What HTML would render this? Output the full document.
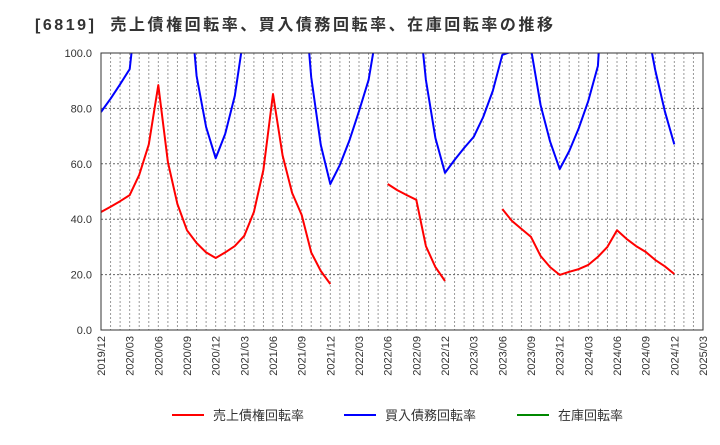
<!DOCTYPE html>
<html><head><meta charset="utf-8"><style>
body{margin:0;background:#fff;font-family:"Liberation Sans","Noto Sans CJK JP",sans-serif;}
</style></head><body>
<svg id="chart" width="720" height="440" xmlns="http://www.w3.org/2000/svg" font-family="Liberation Sans, Noto Sans CJK JP, sans-serif">
<text x="35" y="30" font-size="16" font-weight="bold" fill="#333" textLength="518" lengthAdjust="spacing" xml:space="preserve">[6819]  売上債権回転率、買入債務回転率、在庫回転率の推移</text>
<defs><clipPath id="clip"><rect x="101" y="53" width="602" height="277"/></clipPath></defs>
<g id="grid"></g><g id="series" clip-path="url(#clip)"></g><g id="axes"></g>
<g>
<line x1="172" y1="415" x2="204" y2="415" stroke="#f00" stroke-width="2"/><text x="213" y="420" font-size="13" fill="#333">売上債権回転率</text>
<line x1="344" y1="415" x2="376" y2="415" stroke="#00f" stroke-width="2"/><text x="385" y="420" font-size="13" fill="#333">買入債務回転率</text>
<line x1="517" y1="415" x2="549" y2="415" stroke="#080" stroke-width="2"/><text x="558" y="420" font-size="13" fill="#333">在庫回転率</text>
</g>
</svg>
<script>
const xTickLabels=["2019/12","2020/03","2020/06","2020/09","2020/12","2021/03","2021/06","2021/09","2021/12","2022/03","2022/06","2022/09","2022/12","2023/03","2023/06","2023/09","2023/12","2024/03","2024/06","2024/09","2024/12","2025/03"];
const yTicks=[0,20,40,60,80,100];
const N=null;
const receivables=[42.6,44.5,46.5,48.7,56,67,88.4,60.6,45.5,36,31.4,28,26,28,30.3,34,42.6,57.8,85.2,63,49.5,41.5,28,21.3,16.6,N,N,N,N,N,52.7,50.5,48.7,47,30.3,22.7,17.7,N,N,N,N,N,43.7,39.4,36.5,33.6,26.7,22.7,19.9,21,22,23.5,26.4,30,36,32.9,30.3,28.2,25.3,23,20.2];
const payables=[78.7,83.5,88.7,94.2,125,130,130,130,130,131,91.7,73.3,62,70.8,84.5,107.6,130,130,130,130,130,133,91.3,66.8,52.7,59.6,68.4,79,90.3,110.5,130,130,130,124,90.3,69.3,56.7,61.4,65.7,69.7,76.9,86.3,99.3,100.5,115,101.5,81.2,68,58.1,64.6,72.9,82.7,95.3,150,150,150,150,112,93.9,79,67];
const inventory=[];
const X0=101,X1=703,Y0=330,Y1=53,months=63;
const xs=i=>X0+(X1-X0)*i/months, ys=v=>Y0-(Y0-Y1)*v/100;
const ns="http://www.w3.org/2000/svg";
function mk(p,t,a){const e=document.createElementNS(ns,t);for(const k in a)e.setAttribute(k,a[k]);p.appendChild(e);return e;}
const grid=document.getElementById('grid'),axes=document.getElementById('axes'),ser=document.getElementById('series');
for(let m=1;m<months;m++){const l=mk(grid,'line',{x1:xs(m),x2:xs(m),y1:Y1,y2:Y0,stroke:'#999','stroke-dasharray':'2,2','stroke-width':1});
}
yTicks.forEach(v=>{if(v>0&&v<100){const l=mk(grid,'line',{x1:X0,x2:X1,y1:ys(v),y2:ys(v),stroke:'#666','stroke-dasharray':'2,2'});
}
const t=mk(axes,'text',{x:92,y:ys(v)+4,'text-anchor':'end','font-size':11,fill:'#333'});t.textContent=v.toFixed(1);
});
const fr=mk(axes,'rect',{x:X0,y:Y1,width:X1-X0,height:Y0-Y1,fill:'none',stroke:'#333'});

xTickLabels.forEach((s,i)=>{const x=xs(i*3);const t=mk(axes,'text',{x:0,y:0,transform:`translate(${x+4},${Y0+6}) rotate(-90)`,'text-anchor':'end','font-size':11,fill:'#333'});t.textContent=s;
});
function draw(arr,col,name){let d='',pen=false;arr.forEach((v,i)=>{if(v==null){pen=false;return;}d+=(pen?'L':'M')+xs(i).toFixed(1)+','+ys(v).toFixed(1);pen=true;});
if(!d)return;const p=mk(ser,'path',{d:d,fill:'none',stroke:col,'stroke-width':2,'stroke-linejoin':'round'});
}
draw(receivables,'#f00','receivables-turnover-line');
draw(payables,'#00f','payables-turnover-line');
draw(inventory,'#080','inventory-turnover-line');
</script>
</body></html>
